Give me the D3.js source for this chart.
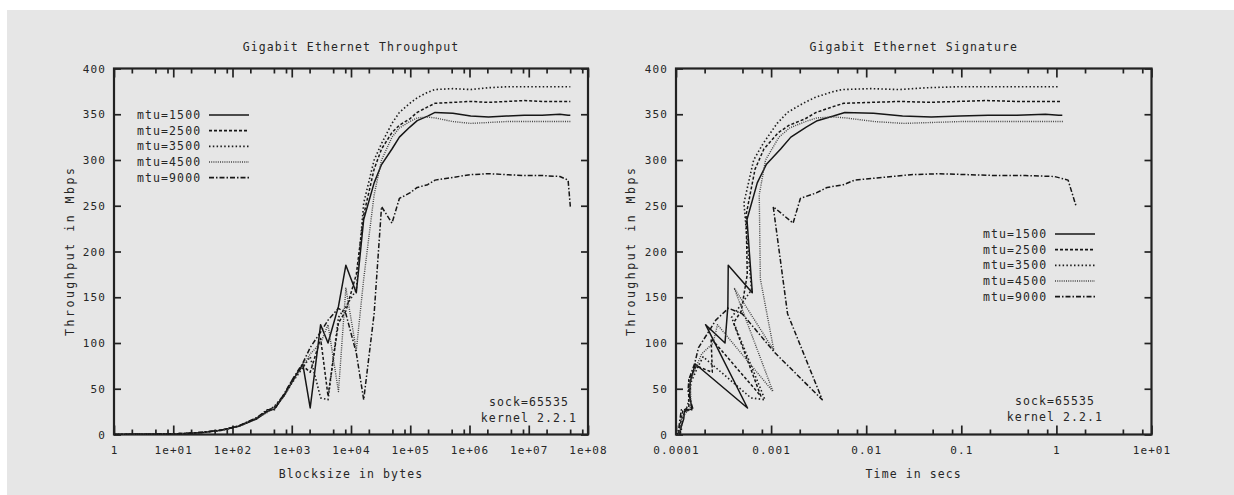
<!DOCTYPE html>
<html>
<head>
<meta charset="utf-8">
<script src="https://cdn.jsdelivr.net/npm/d3@7"></script>
<style>
  html, body { margin: 0; padding: 0; background: #ffffff; }
  svg { display: block; }
  text { font-family: "DejaVu Sans Mono", "Liberation Mono", monospace; fill: #262626; }
</style>
</head>
<body>
<svg id="chart" width="1234" height="495"></svg>
<script>
// NetPIPE runs over Gigabit Ethernet, one run per MTU setting.
const seriesNames = ["mtu=1500", "mtu=2500", "mtu=3500", "mtu=4500", "mtu=9000"];

// Message block sizes, bytes
const blockSizes = [1, 2, 4, 8, 16, 32, 64, 128, 256, 384, 512, 768, 1024, 1536, 2048, 3072,
  4096, 6144, 8192, 12288, 16384, 24576, 32768, 49152, 65536, 98304, 131072, 196608,
  262144, 524288, 1048576, 2097152, 4194304, 8388608, 16777216, 33554432, 46137344, 50331648];

// Throughput, Mbps, per block size
const mbps1500 = [0.075, 0.15, 0.29, 0.6, 1.2, 2.3, 4.6, 9, 17, 25, 28, 44, 58, 77, 29, 120,
  100, 140, 185, 155, 235, 275, 295, 312, 325, 336, 343, 348, 352, 351, 348, 347, 348, 349,
  349, 350, 349, 349];
const mbps2500 = [0.078, 0.15, 0.31, 0.62, 1.2, 2.4, 4.7, 9.3, 18, 26, 30, 45, 60, 75, 68, 105,
  42, 122, 135, 175, 240, 290, 312, 330, 338, 345, 352, 358, 362, 363, 364, 363, 364, 365,
  364, 364, 364, 364];
const mbps3500 = [0.072, 0.15, 0.3, 0.58, 1.15, 2.3, 4.5, 9, 17.5, 25, 31, 44, 57, 73, 85, 40,
  38, 128, 140, 158, 253, 300, 318, 340, 352, 362, 368, 374, 377, 378, 377, 379, 380, 380,
  380, 380, 380, 380];
const mbps4500 = [0.076, 0.16, 0.3, 0.6, 1.25, 2.4, 4.6, 9.1, 18, 24, 29, 43, 58, 75, 88, 100,
  120, 47, 160, 92, 170, 262, 300, 325, 335, 342, 346, 347, 346, 342, 340, 341, 342, 342,
  342, 342, 342, 342];
const mbps9000 = [0.08, 0.155, 0.32, 0.62, 1.25, 2.5, 4.8, 9.5, 18.5, 27, 27, 46, 60, 78, 95,
  112, 125, 138, 132, 89, 38, 132, 249, 231, 258, 264, 270, 273, 278, 281, 284, 285, 284,
  283, 283, 282, 278, 249];

// Transfer time, seconds, per block size
const secs1500 = [1.067e-4, 1.067e-4, 1.103e-4, 1.067e-4, 1.067e-4, 1.113e-4, 1.113e-4,
  1.138e-4, 1.205e-4, 1.229e-4, 1.463e-4, 1.396e-4, 1.412e-4, 1.596e-4, 5.650e-4, 2.048e-4,
  3.277e-4, 3.511e-4, 3.542e-4, 6.342e-4, 5.578e-4, 7.149e-4, 8.886e-4, 1.260e-3, 1.613e-3,
  2.341e-3, 3.057e-3, 4.520e-3, 5.958e-3, 1.195e-2, 2.4105e-2, 4.835e-2, 9.642e-2, 0.19229,
  0.38458, 0.76696, 1.0576, 1.1537];
const secs2500 = [1.026e-4, 1.067e-4, 1.032e-4, 1.032e-4, 1.067e-4, 1.067e-4, 1.089e-4,
  1.101e-4, 1.138e-4, 1.182e-4, 1.365e-4, 1.365e-4, 1.365e-4, 1.638e-4, 2.409e-4, 2.341e-4,
  7.802e-4, 4.029e-4, 4.855e-4, 5.617e-4, 5.461e-4, 6.780e-4, 8.402e-4, 1.1916e-3, 1.5511e-3,
  2.2795e-3, 2.9789e-3, 4.3935e-3, 5.7932e-3, 1.1555e-2, 2.3045e-2, 4.6218e-2, 9.2183e-2,
  0.18386, 0.36873, 0.73746, 1.0140, 1.1062];
const secs3500 = [1.111e-4, 1.067e-4, 1.067e-4, 1.103e-4, 1.113e-4, 1.113e-4, 1.138e-4,
  1.138e-4, 1.170e-4, 1.229e-4, 1.321e-4, 1.396e-4, 1.437e-4, 1.683e-4, 1.928e-4, 6.144e-4,
  8.623e-4, 3.840e-4, 4.681e-4, 6.222e-4, 5.181e-4, 6.554e-4, 8.243e-4, 1.1565e-3, 1.4894e-3,
  2.1725e-3, 2.8494e-3, 4.2055e-3, 5.5627e-3, 1.1096e-2, 2.2251e-2, 4.4267e-2, 8.8301e-2,
  0.17660, 0.35320, 0.70641, 0.97131, 1.0596];
const secs4500 = [1.053e-4, 1.0e-4, 1.067e-4, 1.067e-4, 1.024e-4, 1.067e-4, 1.113e-4,
  1.125e-4, 1.138e-4, 1.280e-4, 1.412e-4, 1.429e-4, 1.412e-4, 1.638e-4, 1.862e-4, 2.458e-4,
  2.731e-4, 1.0458e-3, 4.096e-4, 1.0685e-3, 7.710e-4, 7.504e-4, 8.738e-4, 1.2099e-3, 1.5650e-3,
  2.2995e-3, 3.0306e-3, 4.5328e-3, 6.0611e-3, 1.2264e-2, 2.4672e-2, 4.9200e-2, 9.8112e-2,
  0.19622, 0.39245, 0.78490, 1.0792, 1.1773];
const secs9000 = [1.0e-4, 1.032e-4, 1.0e-4, 1.032e-4, 1.024e-4, 1.024e-4, 1.067e-4, 1.078e-4,
  1.107e-4, 1.138e-4, 1.517e-4, 1.336e-4, 1.365e-4, 1.575e-4, 1.725e-4, 2.194e-4, 2.621e-4,
  3.562e-4, 4.965e-4, 1.1045e-3, 3.4493e-3, 1.4895e-3, 1.0528e-3, 1.7022e-3, 2.0321e-3,
  2.9789e-3, 3.8836e-3, 5.7614e-3, 7.5437e-3, 1.4926e-2, 2.9537e-2, 5.8867e-2, 0.11815,
  0.23713, 0.47427, 0.95190, 1.3277, 1.6171];

// Axis ticks and labels
const throughputTicks = [0, 50, 100, 150, 200, 250, 300, 350, 400];
const blockTicks = [1, 1e1, 1e2, 1e3, 1e4, 1e5, 1e6, 1e7, 1e8];
const blockTickLabels = ["1", "1e+01", "1e+02", "1e+03", "1e+04", "1e+05", "1e+06", "1e+07", "1e+08"];
const timeTicks = [1e-4, 1e-3, 1e-2, 1e-1, 1, 10];
const timeTickLabels = ["0.0001", "0.001", "0.01", "0.1", "1", "1e+01"];
const minorMultipliers = [2, 5, 8];
const noteLines = ["sock=65535", "kernel 2.2.1"];

// Line styles for the five runs (gnuplot-like dash types)
const lineStyles = [
  { dash: null, color: "#161616", width: 1.5 },
  { dash: "3,2", color: "#161616", width: 1.5 },
  { dash: "1.5,2.3", color: "#1c1c1c", width: 1.6 },
  { dash: "1,1.2", color: "#444444", width: 1.4 },
  { dash: "5,2,1.5,2", color: "#161616", width: 1.5 }
];

const svg = d3.select("#chart");

// page panel
svg.append("rect").attr("x", 7).attr("y", 10).attr("width", 1227).attr("height", 485)
  .attr("fill", "#e6e6e6");

function minorTicks(domain) {
  const out = [];
  for (let p = Math.round(Math.log10(domain[0])); p < Math.round(Math.log10(domain[1])); p++) {
    minorMultipliers.forEach(m => out.push(m * Math.pow(10, p)));
  }
  return out;
}

function drawPanel(cfg) {
  const g = svg.append("g");
  const x = d3.scaleLog().domain(cfg.xDomain).range([cfg.left, cfg.right]);
  const y = d3.scaleLinear().domain([0, 400]).range([cfg.bottom, cfg.top]);
  const clipId = cfg.id + "-clip";
  const midX = (cfg.left + cfg.right) / 2;

  g.append("clipPath").attr("id", clipId).append("rect")
    .attr("x", cfg.left).attr("y", cfg.top)
    .attr("width", cfg.right - cfg.left).attr("height", cfg.bottom - cfg.top);

  // bottom axis with labels, ticks pointing inward
  const fmt = d => cfg.xLabels[cfg.xTicks.indexOf(d)];
  const bottom = g.append("g").attr("transform", `translate(0,${cfg.bottom})`)
    .call(d3.axisBottom(x).tickValues(cfg.xTicks).tickFormat(fmt).tickSize(-9).tickPadding(12));
  bottom.append("g").call(d3.axisBottom(x).tickValues(minorTicks(cfg.xDomain)).tickFormat("").tickSize(-5));
  const top = g.append("g").attr("transform", `translate(0,${cfg.top})`)
    .call(d3.axisTop(x).tickValues(cfg.xTicks).tickFormat("").tickSize(-9));
  top.append("g").call(d3.axisTop(x).tickValues(minorTicks(cfg.xDomain)).tickFormat("").tickSize(-5));

  g.append("g").attr("transform", `translate(${cfg.left},0)`)
    .call(d3.axisLeft(y).tickValues(throughputTicks).tickSize(-7).tickPadding(8));
  g.append("g").attr("transform", `translate(${cfg.right},0)`)
    .call(d3.axisRight(y).tickValues(throughputTicks).tickFormat("").tickSize(-7));

  g.selectAll(".domain").remove();
  g.selectAll(".tick line").attr("stroke", "#222222").attr("stroke-width", 1.7);
  g.selectAll(".tick text")
    .style("font-family", '"DejaVu Sans Mono", monospace')
    .style("font-size", "11px").style("letter-spacing", "1.1px").attr("fill", "#262626");

  // frame
  g.append("rect").attr("x", cfg.left).attr("y", cfg.top)
    .attr("width", cfg.right - cfg.left).attr("height", cfg.bottom - cfg.top)
    .attr("fill", "none").attr("stroke", "#222222").attr("stroke-width", 2.2);

  // data
  const line = d3.line().x(d => x(d[0])).y(d => y(d[1]));
  const plot = g.append("g").attr("clip-path", `url(#${clipId})`);
  cfg.series.forEach((s, i) => {
    const pts = s.xs.map((v, k) => [v, s.ys[k]]);
    const st = lineStyles[i];
    plot.append("path").datum(pts).attr("d", line)
      .attr("fill", "none").attr("stroke", st.color).attr("stroke-width", st.width)
      .attr("stroke-linejoin", "round")
      .attr("stroke-dasharray", st.dash);
  });

  // legend
  seriesNames.forEach((name, i) => {
    const ly = cfg.legendY + i * 15.65;
    g.append("text").attr("x", cfg.legendX).attr("y", ly).attr("dy", "0.35em")
      .style("font-size", "11.5px").style("letter-spacing", "1.1px").text(name);
    const st = lineStyles[i];
    g.append("line").attr("x1", cfg.legendX + 72).attr("x2", cfg.legendX + 112)
      .attr("y1", ly).attr("y2", ly)
      .attr("stroke", st.color).attr("stroke-width", st.width + 0.2)
      .attr("stroke-dasharray", st.dash);
  });

  // run annotation
  noteLines.forEach((t, i) => {
    g.append("text").attr("x", cfg.noteX).attr("y", cfg.noteY + i * 16).attr("dy", "0.35em")
      .attr("text-anchor", "middle")
      .style("font-size", "11.5px").style("letter-spacing", "1.1px").text(t);
  });

  // titles
  g.append("text").attr("x", midX).attr("y", 47).attr("dy", "0.35em")
    .attr("text-anchor", "middle").style("font-size", "11.5px").style("letter-spacing", "1.1px")
    .text(cfg.title);
  g.append("text").attr("x", midX).attr("y", 474).attr("dy", "0.35em")
    .attr("text-anchor", "middle").style("font-size", "11.5px").style("letter-spacing", "1.1px")
    .text(cfg.xTitle);
  g.append("text").attr("transform", `translate(${cfg.yTitleX},252) rotate(-90)`)
    .attr("dy", "0.35em").attr("text-anchor", "middle")
    .attr("textLength", 168).attr("lengthAdjust", "spacing")
    .style("font-size", "11.5px").text("Throughput in Mbps");
}

drawPanel({
  id: "blocks", left: 114, right: 588, top: 68.5, bottom: 434.5,
  xDomain: [1, 1e8], xTicks: blockTicks, xLabels: blockTickLabels,
  title: "Gigabit Ethernet Throughput",
  xTitle: "Blocksize in bytes", yTitleX: 70,
  legendX: 137, legendY: 115, noteX: 529, noteY: 401.5,
  series: [
    { xs: blockSizes, ys: mbps1500 },
    { xs: blockSizes, ys: mbps2500 },
    { xs: blockSizes, ys: mbps3500 },
    { xs: blockSizes, ys: mbps4500 },
    { xs: blockSizes, ys: mbps9000 }
  ]
});

drawPanel({
  id: "times", left: 676, right: 1151.5, top: 68.5, bottom: 434.5,
  xDomain: [1e-4, 10], xTicks: timeTicks, xLabels: timeTickLabels,
  title: "Gigabit Ethernet Signature",
  xTitle: "Time in secs", yTitleX: 631,
  legendX: 983, legendY: 234, noteX: 1055, noteY: 400.5,
  series: [
    { xs: secs1500, ys: mbps1500 },
    { xs: secs2500, ys: mbps2500 },
    { xs: secs3500, ys: mbps3500 },
    { xs: secs4500, ys: mbps4500 },
    { xs: secs9000, ys: mbps9000 }
  ]
});
</script>
</body>
</html>
